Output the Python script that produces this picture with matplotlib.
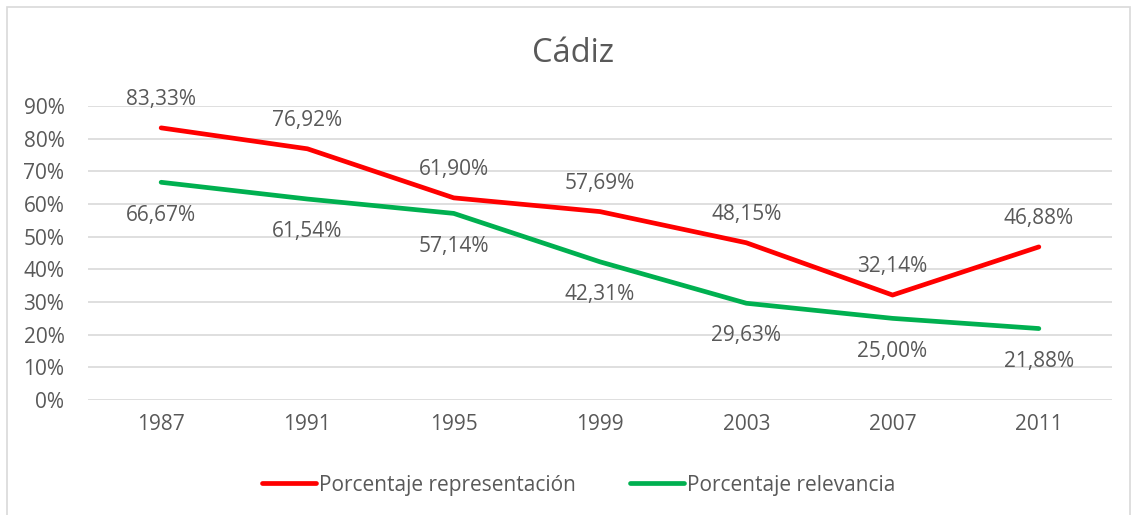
import matplotlib.pyplot as plt
from matplotlib.patches import Rectangle
from matplotlib.ticker import FuncFormatter

plt.rcParams['font.family'] = ['Open Sans', 'DejaVu Sans']

years = ['1987', '1991', '1995', '1999', '2003', '2007', '2011']
representacion = [83.33, 76.92, 61.90, 57.69, 48.15, 32.14, 46.88]
relevancia = [66.67, 61.54, 57.14, 42.31, 29.63, 25.00, 21.88]

txt = '#595959'
red = '#FF0000'
green = '#00B050'

fig = plt.figure(figsize=(11.37, 5.15), dpi=100)
ax = fig.add_axes([0.0774, 0.2233, 0.9006, 0.5707])

x = range(len(years))
ax.plot(x, [v / 100 for v in representacion], color=red, lw=3.4,
        solid_capstyle='round', label='Porcentaje representación')
ax.plot(x, [v / 100 for v in relevancia], color=green, lw=3.4,
        solid_capstyle='round', label='Porcentaje relevancia')

# etiquetas: rojas encima, verdes debajo
for i, v in enumerate(representacion):
    ax.annotate(f'{v:.2f}%'.replace('.', ','), (i, v / 100), xytext=(0, 13),
                textcoords='offset points', ha='center', va='bottom',
                fontsize=15, color=txt)
for i, v in enumerate(relevancia):
    ax.annotate(f'{v:.2f}%'.replace('.', ','), (i, v / 100), xytext=(0, -16),
                textcoords='offset points', ha='center', va='top',
                fontsize=15, color=txt)

ax.set_xlim(-0.5, len(years) - 0.5)
ax.set_ylim(0, 0.9)
ax.set_yticks([i / 10 for i in range(10)])
ax.yaxis.set_major_formatter(FuncFormatter(lambda v, p: f'{v * 100:.0f}%'))
ax.set_xticks(list(x))
ax.set_xticklabels(years)
ax.tick_params(length=0, labelsize=15, labelcolor=txt, pad=10)
ax.tick_params(axis='y', pad=17)
ax.grid(axis='y', color='#D9D9D9', lw=1.2)
ax.set_axisbelow(True)
for s in ax.spines.values():
    s.set_visible(False)

fig.text(0.504, 0.897, 'Cádiz', ha='center', va='center', fontsize=23.5, color=txt)

fig.legend(loc='center', bbox_to_anchor=(0.509, 0.058), ncol=2, frameon=False,
           fontsize=15, labelcolor=txt, handlelength=2.6, handletextpad=0.15,
           columnspacing=2.6)

fig.patches.append(Rectangle((0.006, -0.02), 0.988, 1.006, transform=fig.transFigure,
                             fill=False, edgecolor='#D9D9D9', lw=1.2))

fig.savefig('out.png', dpi=100)
